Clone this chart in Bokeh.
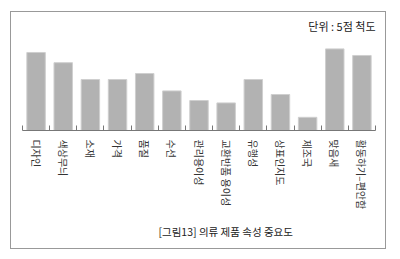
from bokeh.plotting import figure
from bokeh.models import FixedTicker, Title, Range1d
from bokeh.embed import file_html
from bokeh.resources import INLINE

categories = ["디자인", "색상무늬", "소재", "가격", "품질", "수선", "관리용이성",
              "교환반품 용이성", "유행성", "상표인지도", "제조국", "맞음새", "활동하기–편안함"]
values = [4.30, 4.13, 3.85, 3.85, 3.95, 3.66, 3.50, 3.46, 3.85, 3.60, 3.22, 4.36, 4.25]
unit_text = "단위 : 5점 척도"
caption = "[그림13] 의류 제품 속성 중요도"

FONT = "Noto Sans CJK KR"
xs = [i + 0.5 for i in range(len(categories))]

p = figure(width=374, height=236, x_range=Range1d(0, len(categories)),
           y_range=Range1d(3.0, 4.583), output_backend="svg", toolbar_location=None,
           min_border_left=11, min_border_right=10, min_border_top=23, min_border_bottom=118)
p.margin = (12, 0, 0, 11)
p.styles = {"outline": "1px solid #999999"}

p.vbar(x=xs, top=values, bottom=3.0, width=0.68, fill_color="#b2b2b2", line_color="#cfcfcf", line_width=1)

p.yaxis.visible = False
p.xgrid.visible = False
p.ygrid.visible = False
p.outline_line_color = None

ax = p.xaxis[0]
ax.ticker = FixedTicker(ticks=xs, minor_ticks=list(range(len(categories) + 1)))
ax.major_label_overrides = {x: c for x, c in zip(xs, categories)}
ax.major_label_orientation = "vertical"
ax.major_tick_in = 0
ax.major_tick_out = 0
ax.minor_tick_in = 5
ax.minor_tick_out = 0
ax.minor_tick_line_color = "#777777"
ax.axis_line_color = "#777777"
ax.major_label_standoff = 9
ax.major_label_text_font = FONT
ax.major_label_text_font_size = "10px"
ax.major_label_text_color = "#333333"

p.add_layout(Title(text=unit_text, align="right", text_font=FONT, text_font_size="11px",
                   text_font_style="normal", text_color="#222222", standoff=3), "above")
p.add_layout(Title(text=caption, align="left", offset=136, text_font=FONT, text_font_size="10.5px",
                   text_font_style="normal", text_color="#222222", standoff=19), "below")

open("out.html", "w").write(file_html(p, INLINE))
